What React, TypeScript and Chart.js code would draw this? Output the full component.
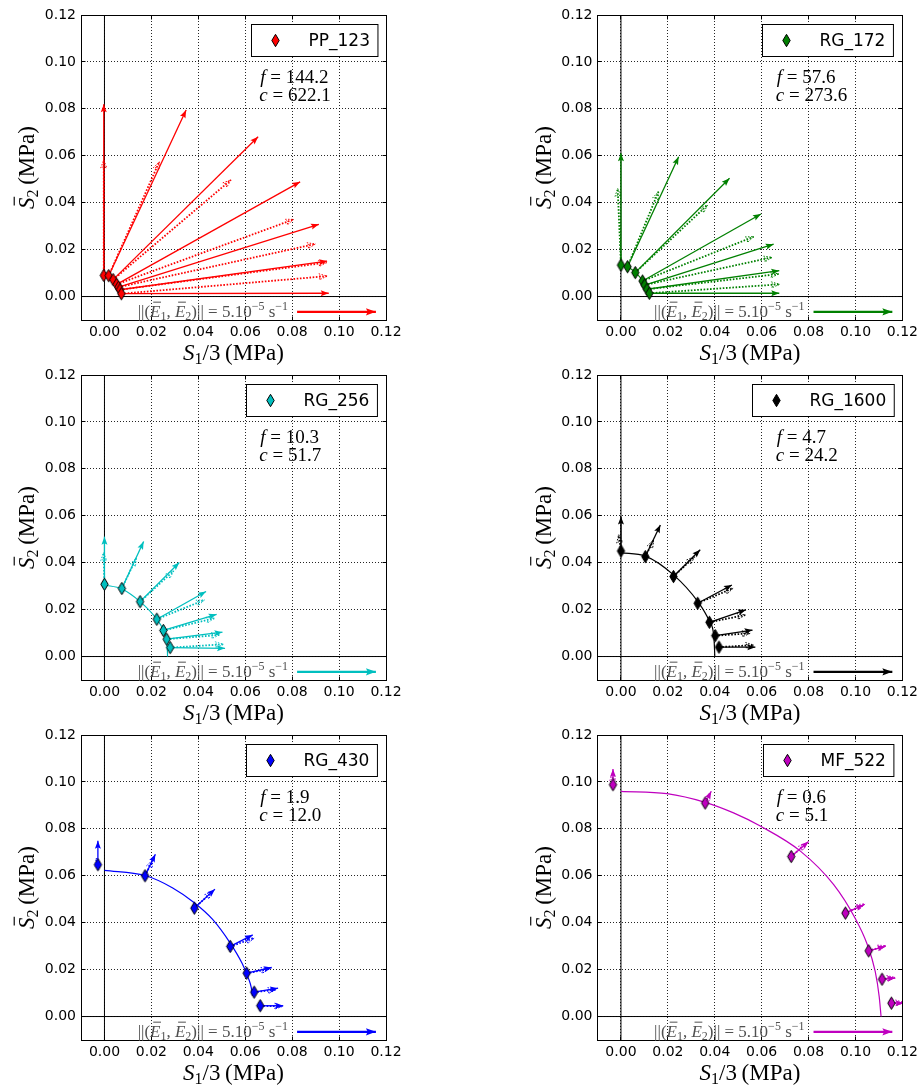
import React, { useEffect, useRef } from "react";
import { Chart, registerables } from "chart.js";

Chart.register(...registerables);

// ------------------------------------------------------------------ data
const AXIS_MIN = -0.01;
const AXIS_MAX = 0.12;
const AXIS_TICKS = [0.0, 0.02, 0.04, 0.06, 0.08, 0.1, 0.12];

const PANEL_NAMES = ["PP_123", "RG_172", "RG_256", "RG_1600", "RG_430", "MF_522"];
const F_VALUES = ["144.2", "57.6", "10.3", "4.7", "1.9", "0.6"];
const C_VALUES = ["622.1", "273.6", "51.7", "24.2", "12.0", "5.1"];

// reference arrow (quiver key): ||(E1,E2)|| = 5.10^-5 s^-1
const REF_ARROW_X = [0.0821, 0.1157];
const REF_ARROW_Y = [-0.0065, -0.0065];

// PP_123
const PP123_POINTS = [[-0.0003, 0.009], [0.0018, 0.0089], [0.0037, 0.0072], [0.0052, 0.0052], [0.006, 0.004], [0.0066, 0.0029], [0.0072, 0.0012]];
const PP123_SOLID = [[-0.0003, 0.082], [0.0348, 0.0795], [0.0655, 0.0681], [0.0834, 0.0489], [0.0914, 0.0308], [0.0949, 0.0151], [0.0956, 0.0014]];
const PP123_DOTTED = [[-0.0003, 0.0582], [0.0234, 0.0575], [0.0539, 0.0497], [0.0807, 0.0329], [0.0899, 0.0224], [0.0947, 0.0145], [0.0949, 0.0087]];
const PP123_CURVE = [[0.0, 0.0089], [0.0018, 0.0088], [0.0037, 0.0073], [0.0052, 0.0054], [0.0062, 0.0038], [0.007, 0.0022], [0.0074, 0.0]];

// RG_172
const RG172_POINTS = [[0.0, 0.0134], [0.0028, 0.0127], [0.0061, 0.0102], [0.0092, 0.0066], [0.0101, 0.0049], [0.0111, 0.0031], [0.0121, 0.0014]];
const RG172_SOLID = [[0.0, 0.0611], [0.0246, 0.0596], [0.0463, 0.0504], [0.0597, 0.0352], [0.0651, 0.0223], [0.0675, 0.011], [0.0675, 0.0014]];
const RG172_DOTTED = [[-0.0014, 0.0461], [0.016, 0.0447], [0.0369, 0.039], [0.0566, 0.0255], [0.0644, 0.0167], [0.0672, 0.0096], [0.0676, 0.0052]];
const RG172_CURVE = [[0.0, 0.0132], [0.0028, 0.0126], [0.0061, 0.0103], [0.0092, 0.0068], [0.0108, 0.004], [0.0118, 0.0018], [0.0122, 0.0]];

// RG_256
const RG256_POINTS = [[0.0, 0.0308], [0.0074, 0.029], [0.0152, 0.0234], [0.0223, 0.0159], [0.0251, 0.0111], [0.0265, 0.0074], [0.028, 0.0038]];
const RG256_SOLID = [[0.0, 0.0511], [0.0167, 0.049], [0.0319, 0.0401], [0.0433, 0.0277], [0.0478, 0.018], [0.0503, 0.0104], [0.0514, 0.0035]];
const RG256_DOTTED = [[-0.0004, 0.0443], [0.0135, 0.0419], [0.0295, 0.0365], [0.0426, 0.0241], [0.0468, 0.0163], [0.049, 0.0092], [0.0507, 0.0052]];
const RG256_CURVE = [[0.0, 0.0305], [0.0074, 0.0288], [0.0152, 0.0234], [0.0223, 0.0159], [0.0251, 0.0112], [0.0264, 0.007], [0.0268, 0.003], [0.0269, 0.0]];

// RG_1600
const RG1600_POINTS = [[0.0, 0.045], [0.0104, 0.0426], [0.0224, 0.0341], [0.0327, 0.0227], [0.0377, 0.0146], [0.0402, 0.0089], [0.0418, 0.004]];
const RG1600_SOLID = [[0.0, 0.0597], [0.0168, 0.0561], [0.0338, 0.0455], [0.0473, 0.0305], [0.0533, 0.0199], [0.0561, 0.0113], [0.0573, 0.004]];
const RG1600_DOTTED = [[-0.001, 0.0519], [0.0139, 0.0497], [0.0314, 0.0426], [0.0478, 0.0291], [0.053, 0.0177], [0.0551, 0.0099], [0.0566, 0.0049]];
const RG1600_CURVE = [[0.0, 0.0442], [0.0104, 0.0428], [0.0224, 0.0348], [0.0327, 0.0235], [0.0377, 0.015], [0.0396, 0.0085], [0.0399, 0.003], [0.04, 0.0]];

// RG_430
const RG430_POINTS = [[-0.0028, 0.0647], [0.0173, 0.06], [0.0383, 0.0462], [0.0536, 0.0299], [0.0606, 0.0185], [0.0638, 0.0104], [0.0664, 0.0046]];
const RG430_SOLID = [[-0.0028, 0.0749], [0.0217, 0.0692], [0.0471, 0.0543], [0.0632, 0.0348], [0.0713, 0.0209], [0.074, 0.0121], [0.0762, 0.0046]];
const RG430_DOTTED = [[-0.0035, 0.0675], [0.0206, 0.0668], [0.0461, 0.0533], [0.0638, 0.0334], [0.0702, 0.0202], [0.0731, 0.0114], [0.0759, 0.0043]];
const RG430_CURVE = [[0.0, 0.0623], [0.0173, 0.0601], [0.0291, 0.0548], [0.0383, 0.0485], [0.0461, 0.0414], [0.0536, 0.0313], [0.0586, 0.0228], [0.0613, 0.0165], [0.0626, 0.0122], [0.0631, 0.0088]];

// MF_522
const MF522_POINTS = [[-0.0034, 0.0988], [0.0359, 0.091], [0.0726, 0.0682], [0.0957, 0.0441], [0.1056, 0.028], [0.1113, 0.0159], [0.1153, 0.0057]];
const MF522_SOLID = [[-0.0034, 0.1055], [0.0385, 0.096], [0.08, 0.0746], [0.1035, 0.0476], [0.1127, 0.0299], [0.117, 0.0164], [0.1205, 0.0057]];
const MF522_DOTTED = [[-0.0036, 0.104], [0.0378, 0.095], [0.079, 0.0738], [0.104, 0.048], [0.113, 0.0302], [0.1168, 0.0167], [0.1205, 0.006]];
const MF522_CURVE = [[0.0, 0.096], [0.0196, 0.095], [0.0359, 0.0913], [0.048, 0.0868], [0.0594, 0.0812], [0.0765, 0.0705], [0.0907, 0.0562], [0.0999, 0.0418], [0.1049, 0.031], [0.1084, 0.0192], [0.1101, 0.0085], [0.1109, 0.0]];

const PANEL_POINTS = [PP123_POINTS, RG172_POINTS, RG256_POINTS, RG1600_POINTS, RG430_POINTS, MF522_POINTS];
const PANEL_SOLID = [PP123_SOLID, RG172_SOLID, RG256_SOLID, RG1600_SOLID, RG430_SOLID, MF522_SOLID];
const PANEL_DOTTED = [PP123_DOTTED, RG172_DOTTED, RG256_DOTTED, RG1600_DOTTED, RG430_DOTTED, MF522_DOTTED];
const PANEL_CURVE = [PP123_CURVE, RG172_CURVE, RG256_CURVE, RG1600_CURVE, RG430_CURVE, MF522_CURVE];

// text anchor (data coordinates) for the f / c annotation
const ANNOT_X = 0.066;
const ANNOT_F_Y = 0.0937;
const ANNOT_C_Y = 0.0859;

// ------------------------------------------------------------------ style / layout
const COLORS = ["#ff0000", "#008000", "#00bfbf", "#000000", "#0000ff", "#bf00bf"];
const SANS = '"DejaVu Sans", sans-serif';
const SERIF = '"Liberation Serif", "DejaVu Serif", serif';

const CANVAS_W = 461;
const ROW_TOP = [0, 360, 720];
const ROW_H = [375, 375, 370];
const COL_LEFT = [0, 461];
const AREA_X = [
  { left: 81, right: 386 },
  { left: 136.5, right: 441.5 },
];
const AREA_TOP = 15;
const AREA_H = 305;

type Part = { t: string; size: number; italic?: boolean; dy?: number; bar?: boolean };

function fontOf(p: Part) {
  return `${p.italic ? "italic " : ""}${p.size}px ${SERIF}`;
}

function drawParts(ctx: CanvasRenderingContext2D, parts: Part[], x: number, y: number, align: "left" | "center" | "right", color: string) {
  const widths = parts.map((p) => {
    ctx.font = fontOf(p);
    return ctx.measureText(p.t).width;
  });
  const total = widths.reduce((s, w) => s + w, 0);
  let cx = align === "left" ? x : align === "center" ? x - total / 2 : x - total;
  ctx.fillStyle = color;
  ctx.strokeStyle = color;
  ctx.textBaseline = "alphabetic";
  ctx.textAlign = "left";
  parts.forEach((p, k) => {
    ctx.font = fontOf(p);
    ctx.fillText(p.t, cx, y + (p.dy || 0));
    if (p.bar) {
      const by = y + (p.dy || 0) - p.size * 0.86;
      ctx.lineWidth = Math.max(1, p.size * 0.05);
      ctx.beginPath();
      ctx.moveTo(cx + widths[k] * 0.3, by);
      ctx.lineTo(cx + widths[k] * 1.05, by);
      ctx.stroke();
    }
    cx += widths[k];
  });
}

const markerCache: Record<string, HTMLCanvasElement> = {};
function diamondMarker(color: string) {
  if (markerCache[color]) return markerCache[color];
  const c = document.createElement("canvas");
  c.width = 11;
  c.height = 15;
  const g = c.getContext("2d")!;
  g.beginPath();
  g.moveTo(5.5, 1.3);
  g.lineTo(9.2, 7.5);
  g.lineTo(5.5, 13.7);
  g.lineTo(1.8, 7.5);
  g.closePath();
  g.fillStyle = color;
  g.fill();
  g.lineWidth = 1;
  g.strokeStyle = "#000";
  g.stroke();
  markerCache[color] = c;
  return c;
}

function drawHead(ctx: CanvasRenderingContext2D, x0: number, y0: number, x1: number, y1: number, kind: string, color: string) {
  const dx = x1 - x0;
  const dy = y1 - y0;
  const len = Math.hypot(dx, dy);
  if (len < 1) return;
  const ux = dx / len, uy = dy / len;
  const nx = -uy, ny = ux;
  const L = kind === "ref" ? 10 : 8;
  const W = kind === "ref" ? 3.6 : 3;
  const N = L * 0.82;
  ctx.beginPath();
  ctx.moveTo(x1, y1);
  ctx.lineTo(x1 - L * ux + W * nx, y1 - L * uy + W * ny);
  ctx.lineTo(x1 - N * ux, y1 - N * uy);
  ctx.lineTo(x1 - L * ux - W * nx, y1 - L * uy - W * ny);
  ctx.closePath();
  if (kind === "dotted") {
    ctx.setLineDash([1.5, 1.5]);
    ctx.lineWidth = 1;
    ctx.strokeStyle = color;
    ctx.stroke();
    ctx.setLineDash([]);
  } else {
    ctx.fillStyle = color;
    ctx.fill();
  }
}

const crisp = (v: number) => Math.round(v - 0.5) + 0.5;

function buildConfig(i: number): any {
  const row = Math.floor(i / 2);
  const col = i % 2;
  const color = COLORS[i];
  const area = AREA_X[col];
  const canvasH = ROW_H[row];
  const marker = diamondMarker(color);

  const toXY = (pairs: number[][]) => pairs.map(([x, y]) => ({ x, y }));
  const datasets: any[] = [];

  // axis lines (axhline / axvline)
  datasets.push({
    data: [{ x: AXIS_MIN, y: 0 }, { x: AXIS_MAX, y: 0 }],
    showLine: true, borderColor: "#000", borderWidth: 1, pointRadius: 0, order: 5,
  });
  datasets.push({
    data: [{ x: 0, y: AXIS_MIN }, { x: 0, y: AXIS_MAX }],
    showLine: true, borderColor: "#000", borderWidth: 1, pointRadius: 0, order: 5,
  });
  // yield curve
  datasets.push({
    data: toXY(PANEL_CURVE[i]),
    showLine: true, borderColor: color, borderWidth: 1.2, pointRadius: 0, cubicInterpolationMode: "monotone", order: 4,
  });
  // arrows
  PANEL_POINTS[i].forEach((p, k) => {
    const d = PANEL_DOTTED[i][k];
    datasets.push({
      data: [{ x: p[0], y: p[1] }, { x: d[0], y: d[1] }],
      showLine: true, borderColor: color, borderWidth: 1.8, borderDash: [1.6, 1.6], pointRadius: 0, order: 3, arrowKind: "dotted",
    });
  });
  PANEL_POINTS[i].forEach((p, k) => {
    const s = PANEL_SOLID[i][k];
    datasets.push({
      data: [{ x: p[0], y: p[1] }, { x: s[0], y: s[1] }],
      showLine: true, borderColor: color, borderWidth: 1.3, pointRadius: 0, order: 2, arrowKind: "solid",
    });
  });
  // reference arrow
  datasets.push({
    data: [{ x: REF_ARROW_X[0], y: REF_ARROW_Y[0] }, { x: REF_ARROW_X[1], y: REF_ARROW_Y[1] }],
    showLine: true, borderColor: color, borderWidth: 2.2, pointRadius: 0, order: 2, arrowKind: "ref",
  });
  // measured points
  datasets.push({
    data: toXY(PANEL_POINTS[i]),
    showLine: false, pointStyle: marker, pointRadius: 5, pointHoverRadius: 5, order: 0,
  });

  const decor = {
    id: "decor" + i,
    afterDatasetsDraw(chart: any) {
      const ctx = chart.ctx as CanvasRenderingContext2D;
      const a = chart.chartArea;
      ctx.save();
      ctx.beginPath();
      ctx.rect(a.left, a.top, a.right - a.left, a.bottom - a.top);
      ctx.clip();
      chart.data.datasets.forEach((ds: any, k: number) => {
        if (!ds.arrowKind) return;
        const meta = chart.getDatasetMeta(k);
        const p0 = meta.data[0];
        const p1 = meta.data[1];
        drawHead(ctx, p0.x, p0.y, p1.x, p1.y, ds.arrowKind, color);
      });
      ctx.restore();
    },
    afterDraw(chart: any) {
      const ctx = chart.ctx as CanvasRenderingContext2D;
      const a = chart.chartArea;
      const xs = chart.scales.x;
      const ys = chart.scales.y;
      ctx.save();
      // frame
      const L = crisp(a.left), R = crisp(a.right), T = crisp(a.top), B = crisp(a.bottom);
      ctx.strokeStyle = "#000";
      ctx.lineWidth = 1;
      ctx.setLineDash([]);
      ctx.strokeRect(L, T, R - L, B - T);
      // inward ticks on all four sides
      ctx.beginPath();
      AXIS_TICKS.forEach((v) => {
        const px = crisp(xs.getPixelForValue(v));
        ctx.moveTo(px, B); ctx.lineTo(px, B - 4);
        ctx.moveTo(px, T); ctx.lineTo(px, T + 4);
        const py = crisp(ys.getPixelForValue(v));
        ctx.moveTo(L, py); ctx.lineTo(L + 4, py);
        ctx.moveTo(R, py); ctx.lineTo(R - 4, py);
      });
      ctx.stroke();

      // reference label
      const ax = xs.getPixelForValue(REF_ARROW_X[0]);
      const ay = ys.getPixelForValue(REF_ARROW_Y[0]);
      drawParts(ctx, [
        { t: "||(", size: 17 },
        { t: "E", size: 17, italic: true, bar: true },
        { t: "1", size: 12, dy: 3 },
        { t: ", ", size: 17 },
        { t: "E", size: 17, italic: true, bar: true },
        { t: "2", size: 12, dy: 3 },
        { t: ")|| = 5.10", size: 17 },
        { t: "\u22125", size: 12, dy: -7 },
        { t: " s", size: 17 },
        { t: "\u22121", size: 12, dy: -7 },
      ], ax - 9, ay + 5, "right", "#505050");

      // f / c annotation
      const tx = xs.getPixelForValue(ANNOT_X);
      drawParts(ctx, [
        { t: "f", size: 19, italic: true },
        { t: " = ", size: 19 },
        { t: F_VALUES[i], size: 19 },
      ], tx + 1, ys.getPixelForValue(ANNOT_F_Y) + 6, "left", "#000");
      drawParts(ctx, [
        { t: "c", size: 19, italic: true },
        { t: " = ", size: 19 },
        { t: C_VALUES[i], size: 19 },
      ], tx, ys.getPixelForValue(ANNOT_C_Y) + 6, "left", "#000");

      // legend box
      ctx.font = `17px ${SANS}`;
      const tw = ctx.measureText(PANEL_NAMES[i]).width;
      const bw = 57 + tw + 8;
      const bh = 32;
      const bx = Math.round(a.right - 9 - bw) + 0.5;
      const by = Math.round(a.top + 9) + 0.5;
      ctx.fillStyle = "#fff";
      ctx.fillRect(bx, by, bw, bh);
      ctx.strokeStyle = "#000";
      ctx.lineWidth = 1;
      ctx.strokeRect(bx, by, bw, bh);
      ctx.drawImage(marker, Math.round(bx + 24 - marker.width / 2), Math.round(by + bh / 2 - marker.height / 2));
      ctx.fillStyle = "#000";
      ctx.textBaseline = "middle";
      ctx.textAlign = "left";
      ctx.font = `17px ${SANS}`;
      ctx.fillText(PANEL_NAMES[i], bx + 57, by + bh / 2 + 1);

      // axis titles
      drawParts(ctx, [
        { t: "S", size: 23, italic: true },
        { t: "1", size: 16, dy: 4 },
        { t: "/3", size: 23 },
        { t: "\u2009(MPa)", size: 23 },
      ], (a.left + a.right) / 2, a.bottom + 40, "center", "#000");

      ctx.save();
      ctx.translate(a.left - 47, (a.top + a.bottom) / 2);
      ctx.rotate(-Math.PI / 2);
      drawParts(ctx, [
        { t: "S", size: 23, italic: true, bar: true },
        { t: "2", size: 16, dy: 4 },
        { t: "\u2009(MPa)", size: 23 },
      ], 0, 0, "center", "#000");
      ctx.restore();

      ctx.restore();
    },
  };

  const tickFont = { family: "DejaVu Sans", size: 14 };
  const gridOpts = { color: "rgba(0,0,0,0.85)", lineWidth: 1, drawTicks: false };

  return {
    type: "scatter",
    data: { datasets },
    options: {
      animation: false,
      responsive: false,
      events: [],
      layout: { padding: { left: 0, top: AREA_TOP, right: CANVAS_W - area.right, bottom: 0 } },
      scales: {
        x: {
          type: "linear",
          min: AXIS_MIN,
          max: AXIS_MAX,
          afterBuildTicks: (s: any) => { s.ticks = AXIS_TICKS.map((v) => ({ value: v })); },
          afterFit: (s: any) => { s.height = canvasH - (AREA_TOP + AREA_H); },
          grid: gridOpts,
          border: { display: false, dash: [1, 2] },
          ticks: { callback: (v: any) => Number(v).toFixed(2), font: tickFont, color: "#000", padding: 4, maxRotation: 0, autoSkip: false },
        },
        y: {
          type: "linear",
          min: AXIS_MIN,
          max: AXIS_MAX,
          afterBuildTicks: (s: any) => { s.ticks = AXIS_TICKS.map((v) => ({ value: v })); },
          afterFit: (s: any) => { s.width = area.left; },
          grid: gridOpts,
          border: { display: false, dash: [1, 2] },
          ticks: { callback: (v: any) => Number(v).toFixed(2), font: tickFont, color: "#000", padding: 5, autoSkip: false },
        },
      },
      plugins: { legend: { display: false }, tooltip: { enabled: false } },
    },
    plugins: [decor],
  };
}

function Panel({ index }: { index: number }) {
  const ref = useRef<HTMLCanvasElement>(null);
  const row = Math.floor(index / 2);
  const col = index % 2;
  useEffect(() => {
    const chart = new Chart(ref.current as HTMLCanvasElement, buildConfig(index));
    return () => chart.destroy();
  }, [index]);
  return (
    <canvas
      ref={ref}
      width={CANVAS_W}
      height={ROW_H[row]}
      style={{ position: "absolute", left: COL_LEFT[col], top: ROW_TOP[row], width: CANVAS_W, height: ROW_H[row] }}
    />
  );
}

export default function App() {
  return (
    <div style={{ position: "absolute", left: 0, top: 0, width: 922, height: 1090, background: "#fff", overflow: "hidden" }}>
      {PANEL_NAMES.map((_, i) => (
        <Panel key={i} index={i} />
      ))}
    </div>
  );
}
